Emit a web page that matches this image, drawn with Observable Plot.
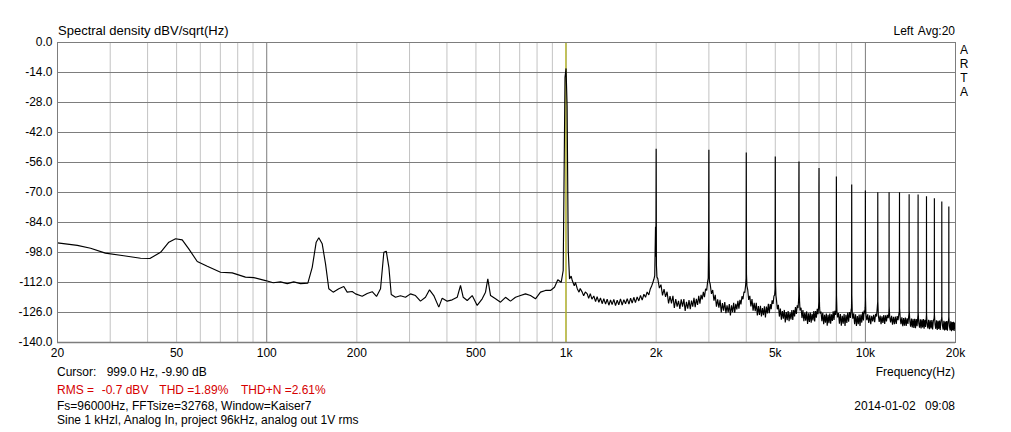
<!DOCTYPE html>
<html>
<head>
<meta charset="utf-8">
<script src="https://cdn.jsdelivr.net/npm/d3@7"></script>
<script src="https://cdn.jsdelivr.net/npm/@observablehq/plot@0.6"></script>
<style>
  html, body { margin: 0; padding: 0; background: #fff; }
</style>
</head>
<body>
<script>
// ---------- data (frequency Hz, level dB) ----------
const lowBand = [[20,-93.5],[23.3,-94.7],[25.8,-96.0],[28.9,-98.3],[33.3,-99.5],[37.9,-100.7],[40.7,-100.8],[44.2,-97.9],[47.1,-93.2],[49.6,-91.6],[52.2,-92.1],[54.9,-96.3],[58.6,-102.2],[63.3,-104.4],[70.1,-107.2],[76.7,-107.5],[84.9,-109.5],[90.5,-109.7],[99.1,-111.1],[105.1,-112.1],[111.2,-111.7],[117.1,-112.5],[123.1,-111.7],[129.7,-112.5],[137.2,-112.3],[141.9,-104.9],[146.3,-93.2],[149.3,-91.1],[153.2,-93.9],[157.2,-103.3],[161.2,-114.9],[166.7,-116.5],[174.1,-114.9],[180.9,-113.9],[185.7,-116.5],[193,-116.2],[198,-117.3],[208.4,-118.4],[216.6,-117.1],[225.1,-116.3],[232.7,-118.5],[240,-114.9],[246.2,-97.9],[250.8,-97.4],[255.9,-104.9],[260.6,-117.6],[269.3,-118.9],[279.8,-118.2],[290.8,-118.9],[302.2,-117.3],[314,-118.1],[326.3,-120.7],[339.1,-118.9],[349.8,-115.4],[361.5,-118.1],[375.7,-123.5],[385.7,-119.3],[400.8,-120.7],[416.5,-120.1],[432.8,-118.9],[444,-113.4],[453.4,-118.9],[467.5,-120.4],[485.8,-118.1],[504.8,-122.7],[524.6,-119.6],[538.2,-116.5],[547.8,-110.3],[559.4,-118.1],[581.3,-119.6],[604,-121.2],[627.6,-118.9],[652.2,-120.7],[677.8,-118.9],[704.3,-118.1],[731.9,-117.3],[760.6,-118.1],[790.4,-119.6],[821.4,-116.5],[853.6,-115.7],[887.1,-115.7],[915,-114.2],[938.5,-110.7],[963.3,-111.9],[978.2,-106.4]];

const fundamental = [[992,-16.2],[1000,-12.1],[1008,-29.4]];

const floor1k = [[1017,-97],[1027,-110.3],[1040,-109],[1049,-111.1],[1065,-113.5],[1075,-112],[1090,-114.9],[1105,-116.5],[1115,-114.8],[1132,-116.5],[1145,-118.2],[1160,-116.4],[1177,-117.3],[1190,-119.4],[1205,-117.2],[1220,-119.8],[1238,-118.3],[1255,-120.9],[1270,-118.6],[1287,-121.2],[1303,-119.2],[1320,-121.9],[1337,-119.6],[1355,-122.1],[1372,-119.8],[1390,-122.6],[1408,-120.1],[1425,-122.3],[1444,-119.9],[1463,-122.8],[1482,-120.2],[1500,-122.4],[1520,-119.6],[1540,-122.5],[1560,-120.0],[1580,-121.9],[1601,-119.5],[1622,-122.1],[1643,-119.3],[1663,-121.6],[1684,-118.9],[1705,-121.4],[1728,-118.7],[1750,-120.6],[1773,-118.0],[1796,-120.2],[1820,-117.5],[1843,-118.9],[1866,-116.4],[1890,-117.8],[1910,-115.2],[1930,-113.8],[1950,-112.0],[1965,-110.5],[1978,-108.8],[1990,-86],[1996,-100],[2004,-104],[2012,-109.5]];

const floor2k = [[2025,-110.2],[2050,-114.6],[2075,-113.0],[2100,-118.0],[2125,-115.1],[2150,-118.7],[2175,-116.3],[2200,-121.8],[2225,-118.4],[2250,-121.7],[2275,-118.2],[2300,-123.9],[2325,-119.7],[2350,-123.3],[2375,-120.6],[2400,-124.3],[2425,-119.9],[2450,-123.3],[2475,-119.7],[2500,-125.3],[2525,-121.0],[2550,-124.2],[2575,-120.2],[2600,-124.5],[2625,-120.4],[2650,-123.3],[2675,-119.2],[2700,-123.5],[2725,-119.6],[2750,-122.5],[2775,-118.2],[2800,-121.9],[2825,-117.8],[2850,-119.9],[2875,-116.4],[2900,-118.8],[2925,-115.0],[2950,-115.7],[2970,-111.8],[2985,-110],[2994,-93],[2997,-75.6],[3004,-100],[3012,-111.5]];

const floor3k = [[3030,-112.7],[3060,-117.3],[3090,-115.5],[3120,-120.5],[3150,-117.8],[3180,-123.3],[3210,-119.9],[3240,-123.7],[3270,-120.1],[3300,-126.0],[3330,-121.6],[3360,-125.2],[3390,-121.1],[3420,-126.3],[3450,-122.7],[3480,-126.0],[3510,-122.1],[3540,-127.4],[3570,-122.6],[3600,-125.9],[3630,-121.5],[3660,-126.1],[3690,-122.0],[3720,-124.6],[3750,-120.6],[3780,-124.2],[3810,-120.1],[3840,-122.2],[3870,-118.4],[3900,-119.8],[3930,-116.3],[3955,-116.7],[3980,-113.3],[3994,-110],[4006,-108],[4020,-113.6]];

const floor4k = [[4045,-115.4],[4075,-120.1],[4110,-118.2],[4145,-123.2],[4180,-119.7],[4215,-125.2],[4250,-121.5],[4285,-125.4],[4320,-121.5],[4355,-127.4],[4390,-123.0],[4425,-127.1],[4460,-122.9],[4495,-127.8],[4530,-123.9],[4565,-127.2],[4600,-123.1],[4635,-128.3],[4670,-123.2],[4705,-126.4],[4740,-122.0],[4775,-126.3],[4810,-122.1],[4845,-124.4],[4880,-120.3],[4915,-122.0],[4950,-118.2],[4975,-117.9],[4992,-115],[5008,-112],[5025,-118]];

const floor5k = [[5045,-120.0],[5080,-124.5],[5120,-122.4],[5160,-127.9],[5200,-124.2],[5240,-129.4],[5280,-125.3],[5320,-128.9],[5360,-124.8],[5400,-130.6],[5440,-125.8],[5480,-129.6],[5520,-125.3],[5560,-130.1],[5600,-126.0],[5640,-129.2],[5680,-124.9],[5720,-129.5],[5760,-124.8],[5800,-127.8],[5840,-123.5],[5880,-126.7],[5920,-122.7],[5955,-123.9],[5980,-120.5],[5990,-118],[5996,-68.3],[6006,-112],[6025,-120.5]];

const floor6k = [[6050,-125.0],[6095,-123.8],[6140,-128.6],[6185,-124.9],[6230,-130.1],[6275,-126.0],[6320,-129.8],[6365,-125.5],[6410,-131.4],[6455,-126.4],[6500,-130.4],[6545,-126.0],[6590,-130.8],[6635,-126.6],[6680,-129.7],[6725,-125.3],[6770,-130.2],[6815,-125.3],[6860,-128.4],[6905,-124.3],[6945,-126.8],[6975,-123.5],[6990,-121],[6995,-68.7],[7008,-114],[7030,-123.5]];

const floor7k = [[7055,-126.5],[7105,-125.5],[7155,-130.1],[7205,-126.1],[7255,-131.5],[7305,-127.1],[7355,-130.7],[7405,-126.5],[7455,-132.2],[7505,-127.1],[7555,-131.0],[7605,-126.5],[7655,-131.2],[7705,-126.8],[7755,-129.9],[7805,-125.4],[7855,-129.5],[7905,-125.2],[7950,-127.1],[7980,-124.5],[7994,-118],[8008,-118],[8035,-125.5]];

const floor8k = [[8070,-128.3],[8130,-126.3],[8190,-131.2],[8250,-126.7],[8310,-132.2],[8370,-127.6],[8430,-131.2],[8490,-126.7],[8550,-132.3],[8610,-127.1],[8670,-130.9],[8730,-126.0],[8790,-130.3],[8850,-125.8],[8910,-128.5],[8960,-124.8],[8985,-124],[8994,-120],[9008,-118],[9040,-126]];

const floor9k = [[9075,-128.9],[9140,-126.4],[9205,-131.5],[9270,-126.8],[9335,-132.3],[9400,-127.7],[9465,-131.5],[9530,-126.9],[9595,-132.3],[9660,-126.9],[9725,-130.7],[9790,-125.7],[9850,-129.7],[9905,-125.1],[9950,-126.4],[9980,-123.5],[9993,-120],[10008,-119],[10040,-126.8]];

const floor10k = [[10110,-129.6],[10180,-126.9],[10260,-130.9],[10340,-127.3],[10420,-131.4],[10500,-127.6],[10580,-130.2],[10660,-127.1],[10740,-130.5],[10820,-126.6],[10890,-127.9],[10950,-124.3],[10992,-121],[11008,-121],[11050,-127.5],
[11120,-130.4],[11200,-127.4],[11280,-131.5],[11360,-127.8],[11440,-130.9],[11520,-127.2],[11600,-131.3],[11680,-127.3],[11760,-130.2],[11840,-127.1],[11920,-128.6],[11975,-126.4],[11994,-124],[12008,-123],[12060,-128.2],
[12140,-130.6],[12230,-127.6],[12320,-131.7],[12410,-128.0],[12500,-131.4],[12590,-127.9],[12680,-131.3],[12770,-127.7],[12860,-129.6],[12930,-126.9],[12980,-125.5],[13010,-124],[13070,-128.6]];

const floor13k = [[13150,-131.4],[13240,-128.3],[13330,-132.4],[13420,-128.6],[13510,-132.2],[13600,-128.4],[13690,-132.3],[13780,-128.7],[13870,-131.3],[13940,-128.2],[13985,-126.5],[13993,-91.1],[14010,-125],[14080,-130.2],
[14160,-132.6],[14250,-128.8],[14340,-133.0],[14430,-129.0],[14520,-133.2],[14610,-128.9],[14700,-133.3],[14790,-129.1],[14880,-132.4],[14950,-128.8],[14990,-127],[14995,-83.9],[15010,-126],[15080,-131.0],
[15170,-133.1],[15260,-129.2],[15350,-133.4],[15440,-129.3],[15530,-133.0],[15620,-129.0],[15710,-133.6],[15800,-129.4],[15890,-132.7],[15960,-129.0],[15993,-127],[16008,-127],[16080,-131.3]];

const floor16k = [[16170,-133.4],[16270,-129.4],[16370,-133.8],[16470,-129.6],[16570,-133.5],[16670,-129.5],[16770,-133.9],[16870,-129.8],[16960,-128.8],[16993,-127],[17008,-127],[17090,-131.6],
[17180,-133.6],[17280,-129.6],[17380,-134.1],[17480,-129.9],[17580,-133.7],[17680,-129.7],[17780,-134.2],[17880,-130.0],[17960,-129.0],[17993,-128],[18008,-128],[18090,-132.0],
[18190,-134.0],[18290,-129.9],[18390,-134.4],[18490,-130.2],[18590,-134.1],[18690,-130.0],[18790,-134.5],[18890,-130.3],[18960,-129.6],[18993,-128],[19008,-128],[19090,-132.5],
[19190,-134.3],[19290,-130.1],[19390,-134.7],[19490,-130.5],[19590,-134.3],[19690,-130.3],[19790,-134.6],[19890,-130.7],[20000,-133.5]];

// harmonic peak levels (Hz, dB)
const harmonicHz = [2000,3000,4000,5000,6000,7000,8000,9000,10000,11000,12000,13000,14000,15000,16000,17000,18000,19000];
const harmonicDb = [-49.6,-50.1,-51.3,-53.2,-55.5,-58.6,-62.5,-66.3,-69.1,-69.9,-69.9,-69.9,-70.8,-70.9,-71.7,-72.7,-74.2,-76.5];

// axes
const yTicks = [0,-14,-28,-42,-56,-70,-84,-98,-112,-126,-140];
const xTickHz = [20,50,100,200,500,1000,2000,5000,10000,20000];
const xTickLabels = ["20","50","100","200","500","1k","2k","5k","10k","20k"];
const minorGridHz = [30,40,50,60,70,80,90,200,300,400,500,600,700,800,900,2000,3000,4000,5000,6000,7000,8000,9000];
const decadeGridHz = [100,1000,10000];
const cursorHz = 999.0;

// ---------- build ----------
const spectrum = [].concat(lowBand, fundamental, floor1k, floor2k, floor3k, floor4k, floor5k,
  floor6k, floor7k, floor8k, floor9k, floor10k, floor13k, floor16k,
  harmonicHz.map((f, i) => [f, harmonicDb[i]]))
  .sort((a, b) => a[0] - b[0]);

const FONT = "'Liberation Sans', Arial, sans-serif";

const chart = Plot.plot({
  width: 1011,
  height: 432,
  marginLeft: 57,
  marginRight: 56,
  marginTop: 42,
  marginBottom: 90,
  style: { fontFamily: FONT, fontSize: "12px", background: "white", color: "black" },
  x: { type: "log", domain: [20, 20000], label: null, axis: null },
  y: {
    domain: [-140, 0], label: null,
    ticks: yTicks, tickSize: 0, tickPadding: 5,
    tickFormat: d => d.toFixed(1)
  },
  marks: [
    Plot.ruleX(minorGridHz, { stroke: "#c3c3c3", strokeWidth: 1 }),
    Plot.ruleX(decadeGridHz, { stroke: "#7d7d7d", strokeWidth: 1 }),
    Plot.ruleY(yTicks, { stroke: "#7d7d7d", strokeWidth: 1 }),
    Plot.ruleX([cursorHz], { stroke: "#c4c400", strokeWidth: 1 }),
    Plot.line(spectrum, { x: d => d[0], y: d => d[1], stroke: "black", strokeWidth: 1.15, strokeLinejoin: "miter" }),
    Plot.frame({ stroke: "#7d7d7d", strokeWidth: 1 }),
    Plot.ruleY([-140], { stroke: "#7d7d7d", strokeWidth: 1.6 }),
    Plot.text(xTickHz, {
      x: d => d, text: (d, i) => xTickLabels[i],
      frameAnchor: "bottom", dy: 14, fontSize: 12, fill: "black"
    })
  ]
});

document.body.appendChild(chart);

// ---------- annotation texts ----------
const svg = d3.select(chart);
function label(txt, x, y, opts = {}) {
  svg.append("text")
    .attr("x", x).attr("y", y)
    .attr("font-family", FONT)
    .attr("font-size", opts.size || 12)
    .attr("fill", opts.fill || "black")
    .attr("text-anchor", opts.anchor || "start")
    .text(txt);
}
label("Spectral density dBV/sqrt(Hz)", 58, 35, { size: 13 });
label("Left", 893.5, 35);
label("Avg:20", 955, 35, { anchor: "end" });
["A", "R", "T", "A"].forEach((c, i) => label(c, 964, 54 + i * 14, { anchor: "middle" }));
label("Frequency(Hz)", 955, 376, { anchor: "end" });
label("Cursor:", 57, 376);
label("999.0 Hz, -9.90 dB", 106.7, 376);
const red = "#d60000";
label("RMS =", 57, 394.3, { fill: red });
label("-0.7 dBV", 101.7, 394.3, { fill: red });
label("THD =1.89%", 159.3, 394.3, { fill: red });
label("THD+N =2.61%", 241, 394.3, { fill: red });
label("Fs=96000Hz, FFTsize=32768, Window=Kaiser7", 57, 410.3);
label("Sine 1 kHzl, Analog In, project 96kHz, analog out 1V rms", 57, 424.3);
label("2014-01-02", 854.3, 410.3);
label("09:08", 955, 410.3, { anchor: "end" });
</script>
</body>
</html>
